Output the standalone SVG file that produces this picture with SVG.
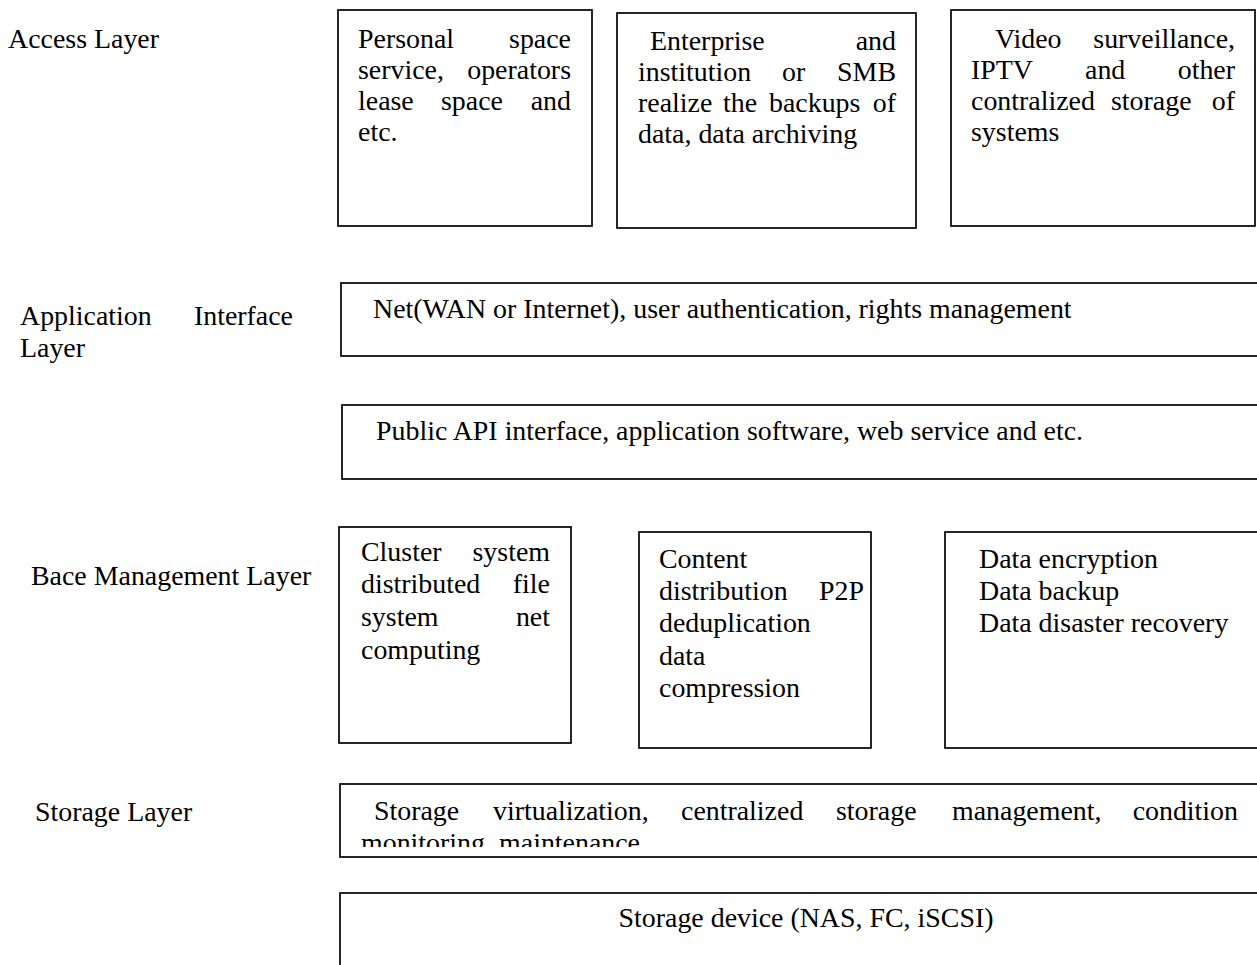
<svg xmlns="http://www.w3.org/2000/svg" width="1257" height="965" viewBox="0 0 1257 965">
<style>
text{font-family:"Liberation Serif","Times New Roman",serif;font-size:27.9px;fill:#000}
.box{fill:#fff;stroke:#000;stroke-width:1.7}
.e{text-anchor:end}
.m{text-anchor:middle}
</style>
<defs>
<clipPath id="clipSV"><rect x="340" y="785" width="917" height="62"/></clipPath>
</defs>
<rect width="1257" height="965" fill="#fff"/>
<g id="labels">
<text x="8" y="48">Access Layer</text>
<text x="20" y="325">Application</text>
<text x="293" y="325" class="e">Interface</text>
<text x="20" y="357">Layer</text>
<text x="31" y="585">Bace Management Layer</text>
<text x="35" y="821">Storage Layer</text>
</g>
<g id="connectors"></g>
<g id="access1">
<rect class="box" x="338" y="10" width="254" height="216"/>
<text x="358" y="48">Personal</text><text x="571" y="48" class="e">space</text>
<text x="358" y="79">service,</text><text x="571" y="79" class="e">operators</text>
<text x="358" y="110">lease</text><text x="441" y="110">space</text><text x="571" y="110" class="e">and</text>
<text x="358" y="141">etc.</text>
</g>
<g id="access2">
<rect class="box" x="617" y="13" width="299" height="215"/>
<text x="650" y="50">Enterprise</text><text x="896" y="50" class="e">and</text>
<text x="638" y="81">institution</text><text x="782" y="81">or</text><text x="896" y="81" class="e">SMB</text>
<text x="638" y="112">realize</text><text x="723" y="112">the</text><text x="769" y="112">backups</text><text x="896" y="112" class="e">of</text>
<text x="638" y="143">data, data archiving</text>
</g>
<g id="access3">
<rect class="box" x="951" y="10" width="304" height="216"/>
<text x="995" y="48">Video</text><text x="1235" y="48" class="e">surveillance,</text>
<text x="971" y="79">IPTV</text><text x="1085" y="79">and</text><text x="1235" y="79" class="e">other</text>
<text x="971" y="110">contralized</text><text x="1111" y="110">storage</text><text x="1235" y="110" class="e">of</text>
<text x="971" y="141">systems</text>
</g>
<g id="net">
<rect class="box" x="341" y="283" width="930" height="73"/>
<text x="373" y="318">Net(WAN or Internet), user authentication, rights management</text>
</g>
<g id="api">
<rect class="box" x="342" y="405" width="930" height="74"/>
<text x="376" y="440">Public API interface, application software, web service and etc.</text>
</g>
<g id="cluster">
<rect class="box" x="339" y="527" width="232" height="216"/>
<text x="361" y="561">Cluster</text><text x="550" y="561" class="e">system</text>
<text x="361" y="593">distributed</text><text x="550" y="593" class="e">file</text>
<text x="361" y="626">system</text><text x="550" y="626" class="e">net</text>
<text x="361" y="659">computing</text>
</g>
<g id="content">
<rect class="box" x="639" y="532" width="232" height="216"/>
<text x="659" y="568">Content</text>
<text x="659" y="600">distribution</text><text x="864" y="600" class="e">P2P</text>
<text x="659" y="632">deduplication</text>
<text x="659" y="665">data</text>
<text x="659" y="697">compression</text>
</g>
<g id="data">
<rect class="box" x="945" y="532" width="330" height="216"/>
<text x="979" y="568">Data encryption</text>
<text x="979" y="600">Data backup</text>
<text x="979" y="632">Data disaster recovery</text>
</g>
<g id="storagevirt">
<rect class="box" x="340" y="784" width="930" height="73"/>
<g clip-path="url(#clipSV)">
<text x="374" y="820">Storage</text><text x="493" y="820">virtualization,</text><text x="681" y="820">centralized</text><text x="836" y="820">storage</text><text x="952" y="820">management,</text><text x="1238" y="820" class="e">condition</text>
<text x="361" y="852">monitoring</text><text x="640" y="852" class="e">maintenance</text>
</g>
</g>
<g id="device">
<rect class="box" x="340" y="893" width="930" height="90"/>
<text x="806" y="927" class="m">Storage device (NAS, FC, iSCSI)</text>
</g>
</svg>
